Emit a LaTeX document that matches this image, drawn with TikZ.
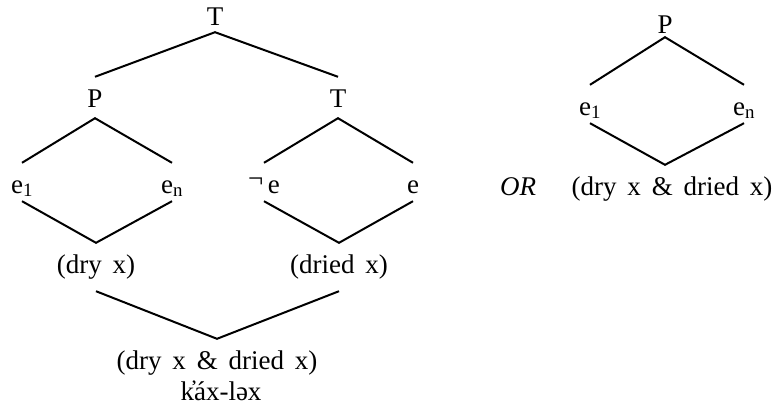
\documentclass[tikz,border=0pt]{standalone}
\usepackage{fontspec}
\setmainfont{Liberation Serif}[WordSpace=1.6]
\usepackage{tikz}
\usetikzlibrary{positioning, calc}
\tikzset{
  lab/.style={
    font=\fontsize{27}{32}\selectfont, anchor=base,
    inner xsep=0pt, inner ysep=0pt,
    text height=30pt, text depth=8pt
  },
  deep/.style={text depth=18pt},
  br/.style={line width=2pt, line join=miter},
}

\begin{document}
\begin{tikzpicture}[x=1pt, y=-1pt]
  \useasboundingbox (0,0) rectangle (779,410);

  % Left tree
  \node[lab, text depth=7pt] (top) at (215,25) {T};
  \node[lab, text depth=11pt] (lp) at (95,107) {P};
  \node[lab, text depth=11pt] (lt) at (338,107) {T};
  \node[lab] (le1) at (22,193) {e\textsubscript{1}};
  \node[lab] (len) at (172,193) {e\textsubscript{n}};
  \node[lab] (lneg) at (264,193) {\raisebox{6pt}{¬}\,e};
  \node[lab] (le) at (413,193) {e};
  \node[lab, deep] (dry) at (96,273) {(dry x)};
  \node[lab, deep] (dried) at (339,273) {(dried x)};
  \node[lab] (both) at (217,369) {(dry x \& dried x)};
  \node[lab, text height=18pt] (word) at (221,400) {k̓áx-ləx};

  % Right tree
  \node[lab, text depth=4pt] (rp) at (665,33) {P};
  \node[lab] (re1) at (590,115) {e\textsubscript{1}};
  \node[lab] (ren) at (744,115) {e\textsubscript{n}};
  \node[lab, font=\fontsize{27}{32}\selectfont\itshape] (or) at (518,195) {OR};
  \node[lab] (rboth) at (672,195) {(dry x \& dried x)};

  % Branches
  \draw[br] (lp.north) -- (top.south) -- (lt.north);
  \draw[br] (le1.north) -- (lp.south) -- (len.north);
  \draw[br] (le1.south) -- (dry.north) -- (len.south);
  \draw[br] (lneg.north) -- (lt.south) -- (le.north);
  \draw[br] (lneg.south) -- (dried.north) -- (le.south);
  \draw[br] (dry.south) -- (both.north) -- (dried.south);
  \draw[br] (re1.north) -- (rp.south) -- (ren.north);
  \draw[br] (re1.south) -- (rboth.north -| rp.south) -- (ren.south);
\end{tikzpicture}
\end{document}
